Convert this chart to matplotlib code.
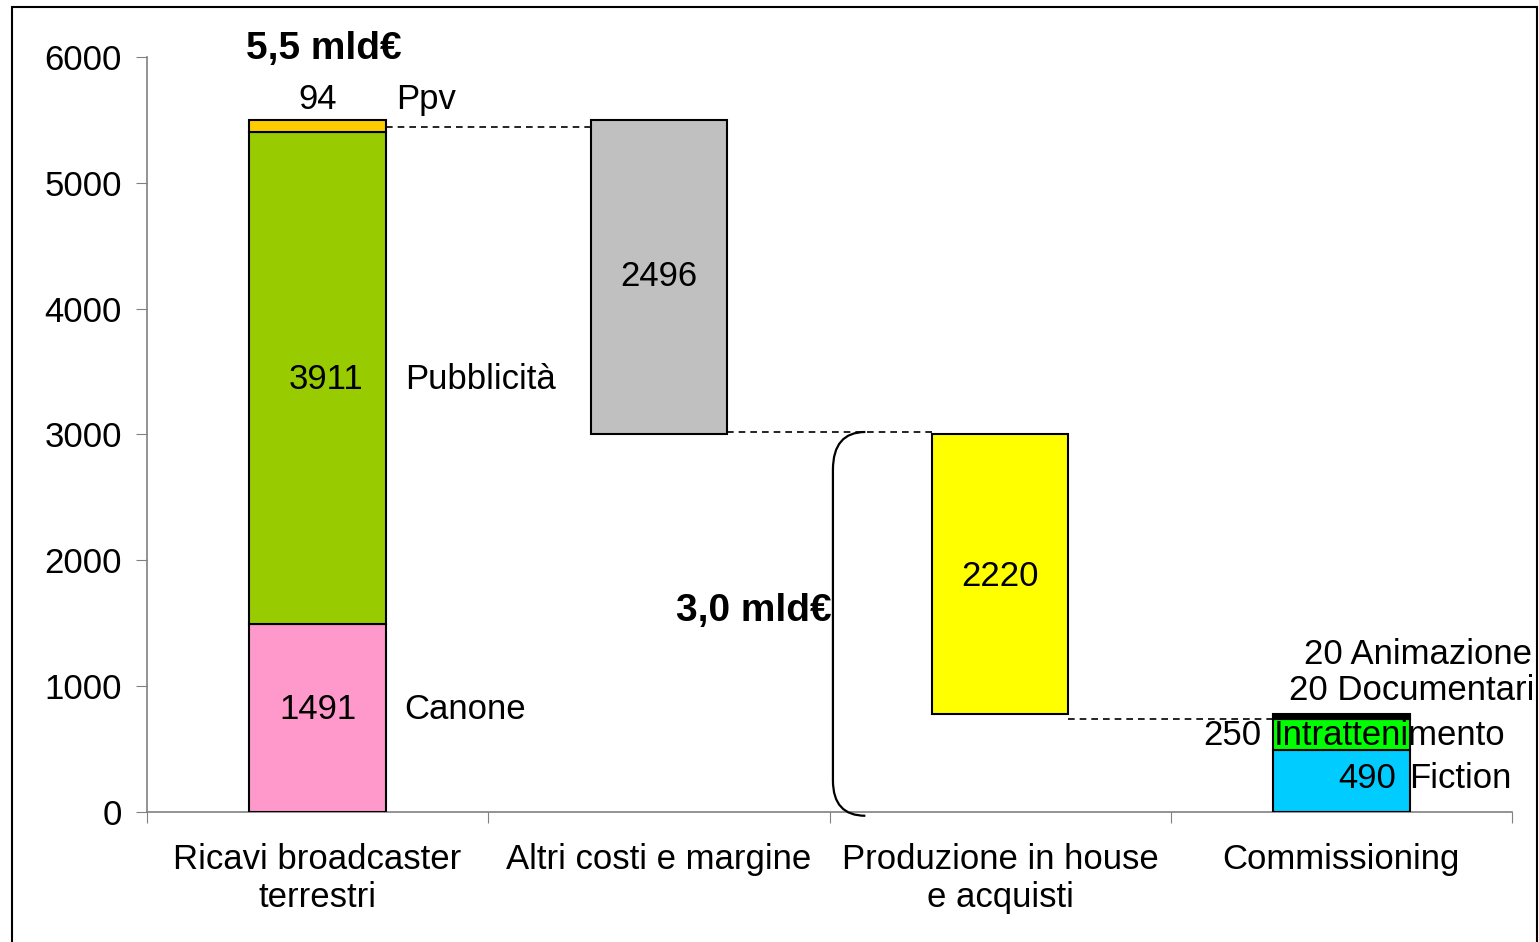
import matplotlib.pyplot as plt
from matplotlib.patches import Rectangle, PathPatch
from matplotlib.path import Path

plt.rcParams['font.family'] = ['Liberation Sans', 'DejaVu Sans']

categories = ["Ricavi broadcaster\nterrestri", "Altri costi e margine",
              "Produzione in house\ne acquisti", "Commissioning"]

# first column: revenues (stacked)
rev_names = ["Canone", "Pubblicità", "Ppv"]
rev_values = [1491, 3911, 94]
rev_colors = ["#FF99CC", "#99CC00", "#FFCC00"]

# floating columns
other_costs = 2496
inhouse = 2220

# last column: commissioning (stacked)
comm_names = ["Fiction", "Intrattenimento", "Documentari", "Animazione"]
comm_values = [490, 250, 20, 20]
comm_colors = ["#00CCFF", "#00FF00", "#000000", "#111111"]

total = sum(rev_values)
budget = total - other_costs
comm_total = sum(comm_values)

fig = plt.figure(figsize=(15.39, 9.42), dpi=100)
ax = fig.add_axes([0.0955, 0.138, 0.887, 0.8015])

w = 0.4
x = [0.5, 1.5, 2.5, 3.5]
bar_kw = dict(width=w, edgecolor="black", linewidth=1.5, zorder=3)

bottom = 0
for v, c in zip(rev_values, rev_colors):
    ax.bar(x[0], v, bottom=bottom, color=c, **bar_kw)
    bottom += v
ax.bar(x[1], other_costs, bottom=budget, color="#C0C0C0", **bar_kw)
ax.bar(x[2], inhouse, bottom=budget - inhouse, color="#FFFF00", **bar_kw)
bottom = 0
for v, c in zip(comm_values, comm_colors):
    ax.bar(x[3], v, bottom=bottom, color=c, **bar_kw)
    bottom += v

# dashed connectors
dash = dict(color="black", linestyle=(0, (4, 3)), linewidth=1.2, zorder=2)
ax.plot([x[0] + w / 2, x[1] - w / 2], [total - 55, total - 55], **dash)
ax.plot([x[1] + w / 2, x[2] - w / 2], [budget + 20, budget + 20], **dash)
ax.plot([x[2] + w / 2, x[3] - w / 2], [comm_total - 40, comm_total - 40], **dash)

fs = 25
# labels first column
ax.text(x[0], 815, "1491", ha="center", va="center", fontsize=fs)
ax.text(x[0] + 0.025, 3440, "3911", ha="center", va="center", fontsize=fs)
ax.text(x[0], 5660, "94", ha="center", va="center", fontsize=fs)
ax.text(x[0] + w / 2 + 0.055, 815, "Canone", ha="left", va="center", fontsize=fs)
ax.text(x[0] + w / 2 + 0.055, 3440, "Pubblicità", ha="left", va="center", fontsize=fs)
ax.text(x[0] + w / 2 + 0.03, 5660, "Ppv", ha="left", va="center", fontsize=fs)
ax.text(x[0] - w / 2 - 0.01, 6060, "5,5 mld€", ha="left", va="center",
        fontsize=28, fontweight="bold", clip_on=False)

ax.text(x[1], budget + other_costs / 2 + 5, "2496", ha="center", va="center", fontsize=fs)
ax.text(x[2], budget - inhouse / 2 - 15, "2220", ha="center", va="center", fontsize=fs)

# commissioning labels
ax.text(3.66, 266, "490", ha="right", va="center", fontsize=fs, zorder=5)
ax.text(3.698, 266, "Fiction", ha="left", va="center", fontsize=fs, zorder=5)
ax.text(3.265, 608, "250", ha="right", va="center", fontsize=fs, zorder=5)
ax.text(3.303, 608, "Intrattenimento", ha="left", va="center", fontsize=fs, zorder=5)
ax.text(4.064, 968, "20 Documentari", ha="right", va="center", fontsize=fs, clip_on=False)
ax.text(4.058, 1255, "20 Animazione", ha="right", va="center", fontsize=fs, clip_on=False)

# brace for 3,0 mld€
x0, x1 = 2.01, 2.105
verts = [(x1, budget + 20), (x0, budget + 20), (x0, budget - 280),
         (x0, 250),
         (x0, -30), (x1, -30)]
codes = [Path.MOVETO, Path.CURVE3, Path.CURVE3, Path.LINETO, Path.CURVE3, Path.CURVE3]
ax.add_patch(PathPatch(Path(verts, codes), fill=False, edgecolor="black",
                       linewidth=1.6, clip_on=False, zorder=4))
ax.text(2.005, 1600, "3,0 mld€", ha="right", va="center", fontsize=28, fontweight="bold")

ax.set_xlim(0, 4)
ax.set_ylim(0, 6000)
ax.set_yticks(range(0, 6001, 1000))
ax.set_xticks([0, 1, 2, 3, 4])
ax.set_xticklabels([])
ax.set_xticks(x, minor=True)
ax.set_xticklabels(categories, minor=True, fontsize=fs, linespacing=1.2)
ax.tick_params(axis="x", which="minor", length=0, pad=22)
ax.tick_params(axis="x", which="major", direction="out", length=8, color="#808080")
ax.tick_params(axis="y", direction="out", length=8, color="#808080", labelsize=fs, pad=10)
for s in ["top", "right"]:
    ax.spines[s].set_visible(False)
for s in ["left", "bottom"]:
    ax.spines[s].set_color("#808080")
    ax.spines[s].set_linewidth(1.2)

# outer frame
fig.add_artist(Rectangle((12 / 1539, -0.05), (1537 - 12) / 1539, 1.05 - 7 / 942,
                         transform=fig.transFigure, fill=False,
                         edgecolor="black", linewidth=1.5))

fig.savefig("out.png", dpi=100)
